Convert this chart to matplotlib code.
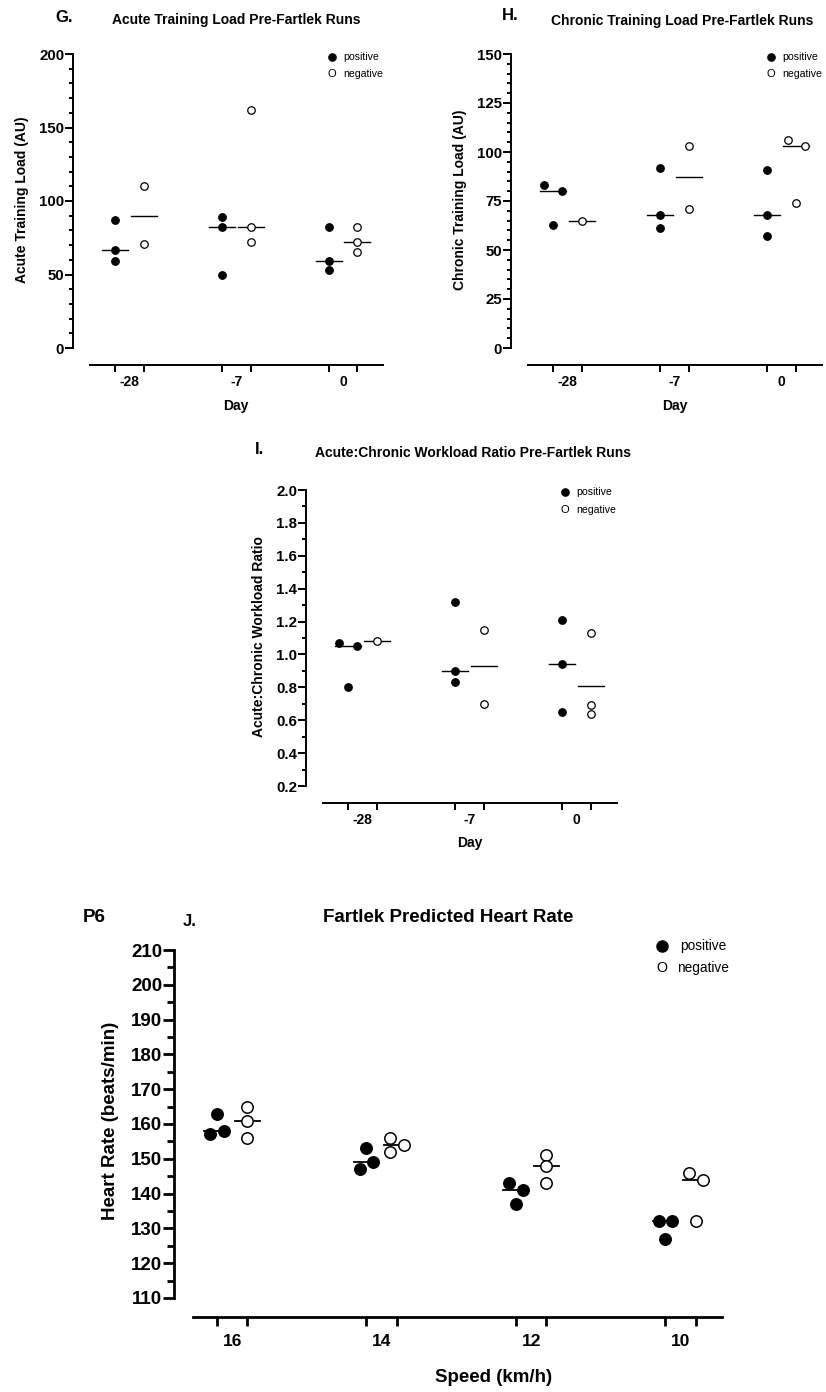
import numpy as np
import matplotlib
matplotlib.use('Agg')
import matplotlib.pyplot as plt
from matplotlib.ticker import MultipleLocator, FixedLocator
from matplotlib.lines import Line2D

plt.rcParams['font.family'] = ['Liberation Sans', 'DejaVu Sans']

W, H = 826, 1392

# ---- data ----
days = ['-28', '-7', '0']

acute_pos = [[87, 67, 59], [89, 82, 50], [82, 59, 53]]
acute_neg = [[110, 71], [162, 82, 72], [82, 72, 65]]
acute_pos_mid = [67, 82, 59]
acute_neg_mid = [90, 82, 72]

chronic_pos = [[83, 80, 63], [92, 68, 61], [91, 68, 57]]
chronic_neg = [[65], [103, 71], [106, 103, 74]]
chronic_pos_mid = [80, 68, 68]
chronic_neg_mid = [65, 87, 103]

acwr_pos = [[1.07, 1.05, 0.80], [1.32, 0.90, 0.83], [1.21, 0.94, 0.65]]
acwr_neg = [[1.08], [1.15, 0.70], [1.13, 0.69, 0.64]]
acwr_pos_mid = [1.05, 0.90, 0.94]
acwr_neg_mid = [1.08, 0.93, 0.81]

speeds = ['16', '14', '12', '10']
hr_pos = [[163, 157, 158], [153, 147, 149], [143, 141, 137], [132, 132, 127]]
hr_neg = [[165, 161, 156], [156, 154, 152], [151, 148, 143], [146, 144, 132]]
hr_pos_mid = [158, 149, 141, 132]
hr_neg_mid = [161, 154, 148, 144]


def fx(x):
    return x / W


def fy(y):
    return 1 - y / H


def dodge(vals, thr, h):
    # spread points that sit on top of each other, prism style
    vals = np.asarray(vals, float)
    offs = np.zeros(len(vals))
    if len(vals) < 2:
        return offs
    order = np.argsort(-vals, kind='stable')
    clusters = [[order[0]]]
    for a, b in zip(order[:-1], order[1:]):
        if vals[a] - vals[b] < thr:
            clusters[-1].append(b)
        else:
            clusters.append([b])
    for c in clusters:
        if len(c) > 1:
            for k, i in enumerate(sorted(c)):
                offs[i] = -h if k % 2 == 0 else h
    return offs


def panel(fig, box, ylim, major, minor, pos, neg, pos_mid, neg_mid, cats,
          pair, xlim, big=False):
    left, top, right, bottom = box
    ax = fig.add_axes([fx(left), fy(bottom), (right - left) / W, (bottom - top) / H])
    ax.set_xlim(*xlim)
    ax.set_ylim(*ylim)

    ppx = (right - left) / (xlim[1] - xlim[0])
    ppy = (bottom - top) / (ylim[1] - ylim[0])
    if big:
        ms, mew, lw, thr_px, h_px, half_px = 8.2, 1.1, 1.3, 9.5, 6.7, 12.5
    else:
        ms, mew, lw, thr_px, h_px, half_px = 5.4, 0.9, 1.0, 7.0, 8.7, 13

    for i in range(len(cats)):
        for vals, x0, mid, fill in [(pos[i], i, pos_mid[i], 'black'),
                                    (neg[i], i + pair, neg_mid[i], 'white')]:
            off = dodge(vals, thr_px / ppy, h_px / ppx)
            ax.plot(x0 + off, vals, 'o', ms=ms, mfc=fill, mec='black', mew=mew,
                    clip_on=False, zorder=3)
            hw = half_px / ppx
            ax.plot([x0 - hw, x0 + hw], [mid, mid], color='black', lw=lw, zorder=2)

    for s in ['top', 'right']:
        ax.spines[s].set_visible(False)
    sw = 2.0 if big else 1.4
    off_pt = (19 if big else 17) * 72 / 100
    for s in ['left', 'bottom']:
        ax.spines[s].set_linewidth(sw)
        ax.spines[s].set_position(('outward', off_pt))

    centers = [i + pair / 2 for i in range(len(cats))]
    ticks = [i + d for i in range(len(cats)) for d in (0, pair)]
    ax.xaxis.set_major_locator(FixedLocator(centers))
    ax.set_xticklabels(cats)
    ax.xaxis.set_minor_locator(FixedLocator(ticks))
    ax.yaxis.set_major_locator(MultipleLocator(major))
    ax.yaxis.set_minor_locator(MultipleLocator(minor))

    if big:
        ax.tick_params(axis='x', which='major', length=0, pad=12.6, labelsize=12.5)
        ax.tick_params(axis='x', which='minor', length=6.5, width=sw)
        ax.tick_params(axis='y', which='major', length=8, width=sw, pad=0.5, labelsize=13.5)
        ax.tick_params(axis='y', which='minor', length=4.8, width=sw)
    else:
        ax.tick_params(axis='x', which='major', length=0, pad=7, labelsize=10)
        ax.tick_params(axis='x', which='minor', length=5, width=sw)
        ax.tick_params(axis='y', which='major', length=5.8, width=sw, pad=0.5, labelsize=10.8)
        ax.tick_params(axis='y', which='minor', length=3, width=sw)
    for lab in ax.get_xticklabels() + ax.get_yticklabels():
        lab.set_fontweight('bold')
    return ax


def legend(fig, x, y, dy, size, msz, gap_pos, gap_neg):
    fig.add_artist(Line2D([fx(x)], [fy(y)], marker='o', ms=msz, color='black',
                          transform=fig.transFigure))
    fig.text(fx(x + gap_pos), fy(y), 'positive', fontsize=size, va='center', ha='left')
    fig.text(fx(x), fy(y + dy), 'O', fontsize=size * 1.05, va='center', ha='center')
    fig.text(fx(x + gap_neg), fy(y + dy), 'negative', fontsize=size, va='center', ha='left')


fig = plt.figure(figsize=(W / 100, H / 100), dpi=100)

small_xlim = (-0.235, 2.51)

# G. acute
panel(fig, (90, 54, 383, 348), (0, 200), 50, 10, acute_pos, acute_neg,
      acute_pos_mid, acute_neg_mid, days, 0.27, small_xlim)
fig.text(fx(55), fy(17), 'G.', fontsize=12, fontweight='bold', va='center', ha='left')
fig.text(fx(236), fy(20), 'Acute Training Load Pre-Fartlek Runs', fontsize=10,
         fontweight='bold', va='center', ha='center')
fig.text(fx(22), fy(200), 'Acute Training Load (AU)', fontsize=10, fontweight='bold',
         rotation=90, va='center', ha='center')
fig.text(fx(236), fy(406), 'Day', fontsize=10, fontweight='bold', va='center', ha='center')
legend(fig, 332, 57, 17, 7.6, 5.2, 11, 11)

# H. chronic
panel(fig, (528, 54, 822, 348), (0, 150), 25, 5, chronic_pos, chronic_neg,
      chronic_pos_mid, chronic_neg_mid, days, 0.27, small_xlim)
fig.text(fx(502), fy(15), 'H.', fontsize=12, fontweight='bold', va='center', ha='left')
fig.text(fx(682), fy(21), 'Chronic Training Load Pre-Fartlek Runs', fontsize=10,
         fontweight='bold', va='center', ha='center')
fig.text(fx(460), fy(200), 'Chronic Training Load (AU)', fontsize=10, fontweight='bold',
         rotation=90, va='center', ha='center')
fig.text(fx(675), fy(406), 'Day', fontsize=10, fontweight='bold', va='center', ha='center')
legend(fig, 771, 57, 17, 7.6, 5.2, 11, 11)

# I. ratio
panel(fig, (323, 490, 617, 786), (0.2, 2.0), 0.2, 0.1, acwr_pos, acwr_neg,
      acwr_pos_mid, acwr_neg_mid, days, 0.27, small_xlim)
fig.text(fx(255), fy(450), 'I.', fontsize=12, fontweight='bold', va='center', ha='left')
fig.text(fx(473), fy(453), 'Acute:Chronic Workload Ratio Pre-Fartlek Runs', fontsize=10,
         fontweight='bold', va='center', ha='center')
fig.text(fx(259), fy(637), 'Acute:Chronic Workload Ratio', fontsize=10, fontweight='bold',
         rotation=90, va='center', ha='center')
fig.text(fx(470), fy(843), 'Day', fontsize=10, fontweight='bold', va='center', ha='center')
legend(fig, 565, 492, 18, 7.6, 5.2, 11, 11)

# J. heart rate
panel(fig, (193, 950, 722, 1298), (110, 210), 10, 5, hr_pos, hr_neg,
      hr_pos_mid, hr_neg_mid, speeds, 0.204, (-0.16, 3.378), big=True)
fig.text(fx(83), fy(918), 'P6', fontsize=13.5, fontweight='bold', va='center', ha='left')
fig.text(fx(183), fy(922), 'J.', fontsize=12, fontweight='bold', va='center', ha='left')
fig.text(fx(448), fy(917), 'Fartlek Predicted Heart Rate', fontsize=13.5,
         fontweight='bold', va='center', ha='center')
fig.text(fx(111), fy(1121), 'Heart Rate (beats/min)', fontsize=13.5, fontweight='bold',
         rotation=90, va='center', ha='center')
fig.text(fx(494), fy(1377), 'Speed (km/h)', fontsize=13.5, fontweight='bold',
         va='center', ha='center')
legend(fig, 662, 946, 22, 9.8, 8, 18, 15)

fig.savefig('out.png', dpi=100)
